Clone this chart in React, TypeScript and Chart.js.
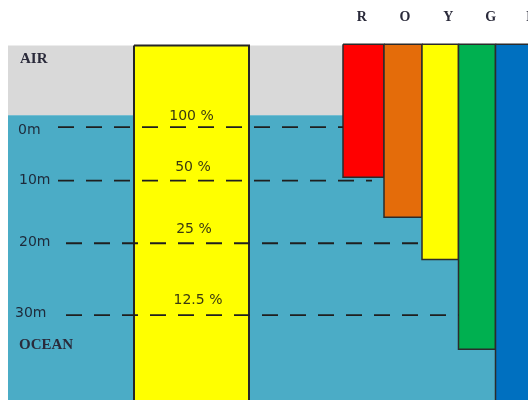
import React, { useEffect, useRef } from "react";
import { Chart, registerables } from "chart.js";

Chart.register(...registerables);

// Horizontal positions are in diagram units (0–528 across the figure);
// vertical positions are in diagram depth units (0 = the "0m" line, positive = deeper).

// Background zones
const airX = [8, 343];
const airY = [-15.1, -2.2];
const oceanX = [8, 500];
const oceanY = [-2.2, 52];

// Light-intensity column
const columnX = [134, 249];
const columnY = [-15.1, 52];

// Spectrum bars (how deep each colour of light reaches)
const spectrumLabels = ["R", "O", "Y", "G", "B"];
const spectrumLeft = [343, 384, 422, 458.5, 495.5];
const spectrumRight = [384, 422, 458.5, 495.5, 540];
const spectrumTop = -15.3;
const spectrumBottom = [9.3, 16.7, 24.5, 41.1, 52];
const spectrumLabelX = [361.7, 405, 448.3, 490.7, 531];
const spectrumLabelY = -20.2;
const spectrumColors = ["#FF0000", "#E46C0A", "#FFFF00", "#00B050", "#0070C0"];

// Depth reference lines
const depthLabels = ["0m", "10m", "20m", "30m"];
const depthLevels = [0, 9.93, 21.5, 34.8];
const depthLabelY = [0.55, 9.8, 21.4, 34.4];
const depthLabelX = [18, 19, 19, 15];
const dashStartX = [58, 58, 66, 66];
const dashEndX = [343, 372, 422, 458.5];

// Light remaining
const percentLabels = ["100 %", "50 %", "25 %", "12.5 %"];
const percentX = [191.5, 193, 194, 198];
const percentY = [-1.95, 7.5, 18.9, 32.0];

// Zone names
const zoneLabels = ["AIR", "OCEAN"];
const zoneLabelX = [20, 19];
const zoneLabelY = [-12.6, 40.3];

function rect(x0: number, x1: number, y0: number, y1: number) {
  return [
    { x: x0, y: y0 },
    { x: x1, y: y0 },
    { x: x1, y: y1 },
    { x: x0, y: y1 },
    { x: x0, y: y0 },
  ];
}

function rectDataset(
  label: string,
  x: number[],
  y: number[],
  fillColor: string,
  border: string,
  borderWidth: number,
  order: number
) {
  return {
    label,
    data: rect(x[0], x[1], y[0], y[1]),
    showLine: true,
    fill: "shape" as const,
    backgroundColor: fillColor,
    borderColor: border,
    borderWidth,
    pointRadius: 0,
    tension: 0,
    order,
  };
}

const textPlugin = {
  id: "diagramText",
  afterDatasetsDraw(chart: any) {
    const { ctx, scales } = chart;
    const xs = scales.x;
    const ys = scales.y;
    ctx.save();
    ctx.textBaseline = "middle";

    // zone names
    ctx.fillStyle = "#2a2a3a";
    ctx.font = "bold 15px 'Liberation Serif'";
    ctx.textAlign = "left";
    zoneLabels.forEach((t, i) => {
      ctx.fillText(t, xs.getPixelForValue(zoneLabelX[i]), ys.getPixelForValue(zoneLabelY[i]));
    });

    // depth labels
    ctx.font = "14px 'DejaVu Sans'";
    ctx.fillStyle = "#1e2a3a";
    depthLabels.forEach((t, i) => {
      ctx.fillText(t, xs.getPixelForValue(depthLabelX[i]), ys.getPixelForValue(depthLabelY[i]));
    });

    // percentages
    ctx.textAlign = "center";
    ctx.fillStyle = "#3a3a10";
    percentLabels.forEach((t, i) => {
      ctx.fillText(t, xs.getPixelForValue(percentX[i]), ys.getPixelForValue(percentY[i]));
    });

    // spectrum letters
    ctx.font = "bold 14px 'Liberation Serif'";
    ctx.fillStyle = "#2a2a3a";
    spectrumLabels.forEach((t, i) => {
      ctx.fillText(t, xs.getPixelForValue(spectrumLabelX[i]), ys.getPixelForValue(spectrumLabelY));
    });
    ctx.restore();
  },
};

export default function App() {
  const canvasRef = useRef<HTMLCanvasElement | null>(null);

  useEffect(() => {
    document.body.style.margin = "0";
    const canvas = canvasRef.current;
    if (!canvas) return;

    const datasets: any[] = [];
    datasets.push(rectDataset("Air", airX, airY, "#D9D9D9", "rgba(0,0,0,0)", 0, 20));
    datasets.push(rectDataset("Ocean", oceanX, oceanY, "#4BACC6", "rgba(0,0,0,0)", 0, 19));
    datasets.push(rectDataset("Light", columnX, columnY, "#FFFF00", "#262626", 2, 18));
    spectrumLabels.forEach((l, i) => {
      datasets.push(
        rectDataset(
          l,
          [spectrumLeft[i], spectrumRight[i]],
          [spectrumTop, spectrumBottom[i]],
          spectrumColors[i],
          "#2b2b2b",
          1.5,
          10 - i
        )
      );
    });
    depthLabels.forEach((l, i) => {
      datasets.push({
        label: l,
        data: [
          { x: dashStartX[i], y: depthLevels[i] },
          { x: dashEndX[i], y: depthLevels[i] },
        ],
        showLine: true,
        fill: false,
        borderColor: "#1f1f1f",
        borderWidth: 1.8,
        borderDash: [16, 12],
        pointRadius: 0,
        order: 1,
      });
    });

    const chart = new Chart(canvas, {
      type: "scatter",
      data: { datasets },
      options: {
        animation: false,
        responsive: true,
        maintainAspectRatio: false,
        layout: { padding: 0 },
        plugins: {
          legend: { display: false },
          tooltip: { enabled: false },
        },
        scales: {
          x: { type: "linear", min: 0, max: 528, display: false },
          y: { type: "linear", min: -23.5, max: 50.5, reverse: true, display: false },
        },
      },
      plugins: [textPlugin],
    });
    return () => chart.destroy();
  }, []);

  return (
    <div style={{ position: "fixed", left: 0, top: 0, width: 528, height: 400, background: "#fff" }}>
      <canvas ref={canvasRef} />
    </div>
  );
}
